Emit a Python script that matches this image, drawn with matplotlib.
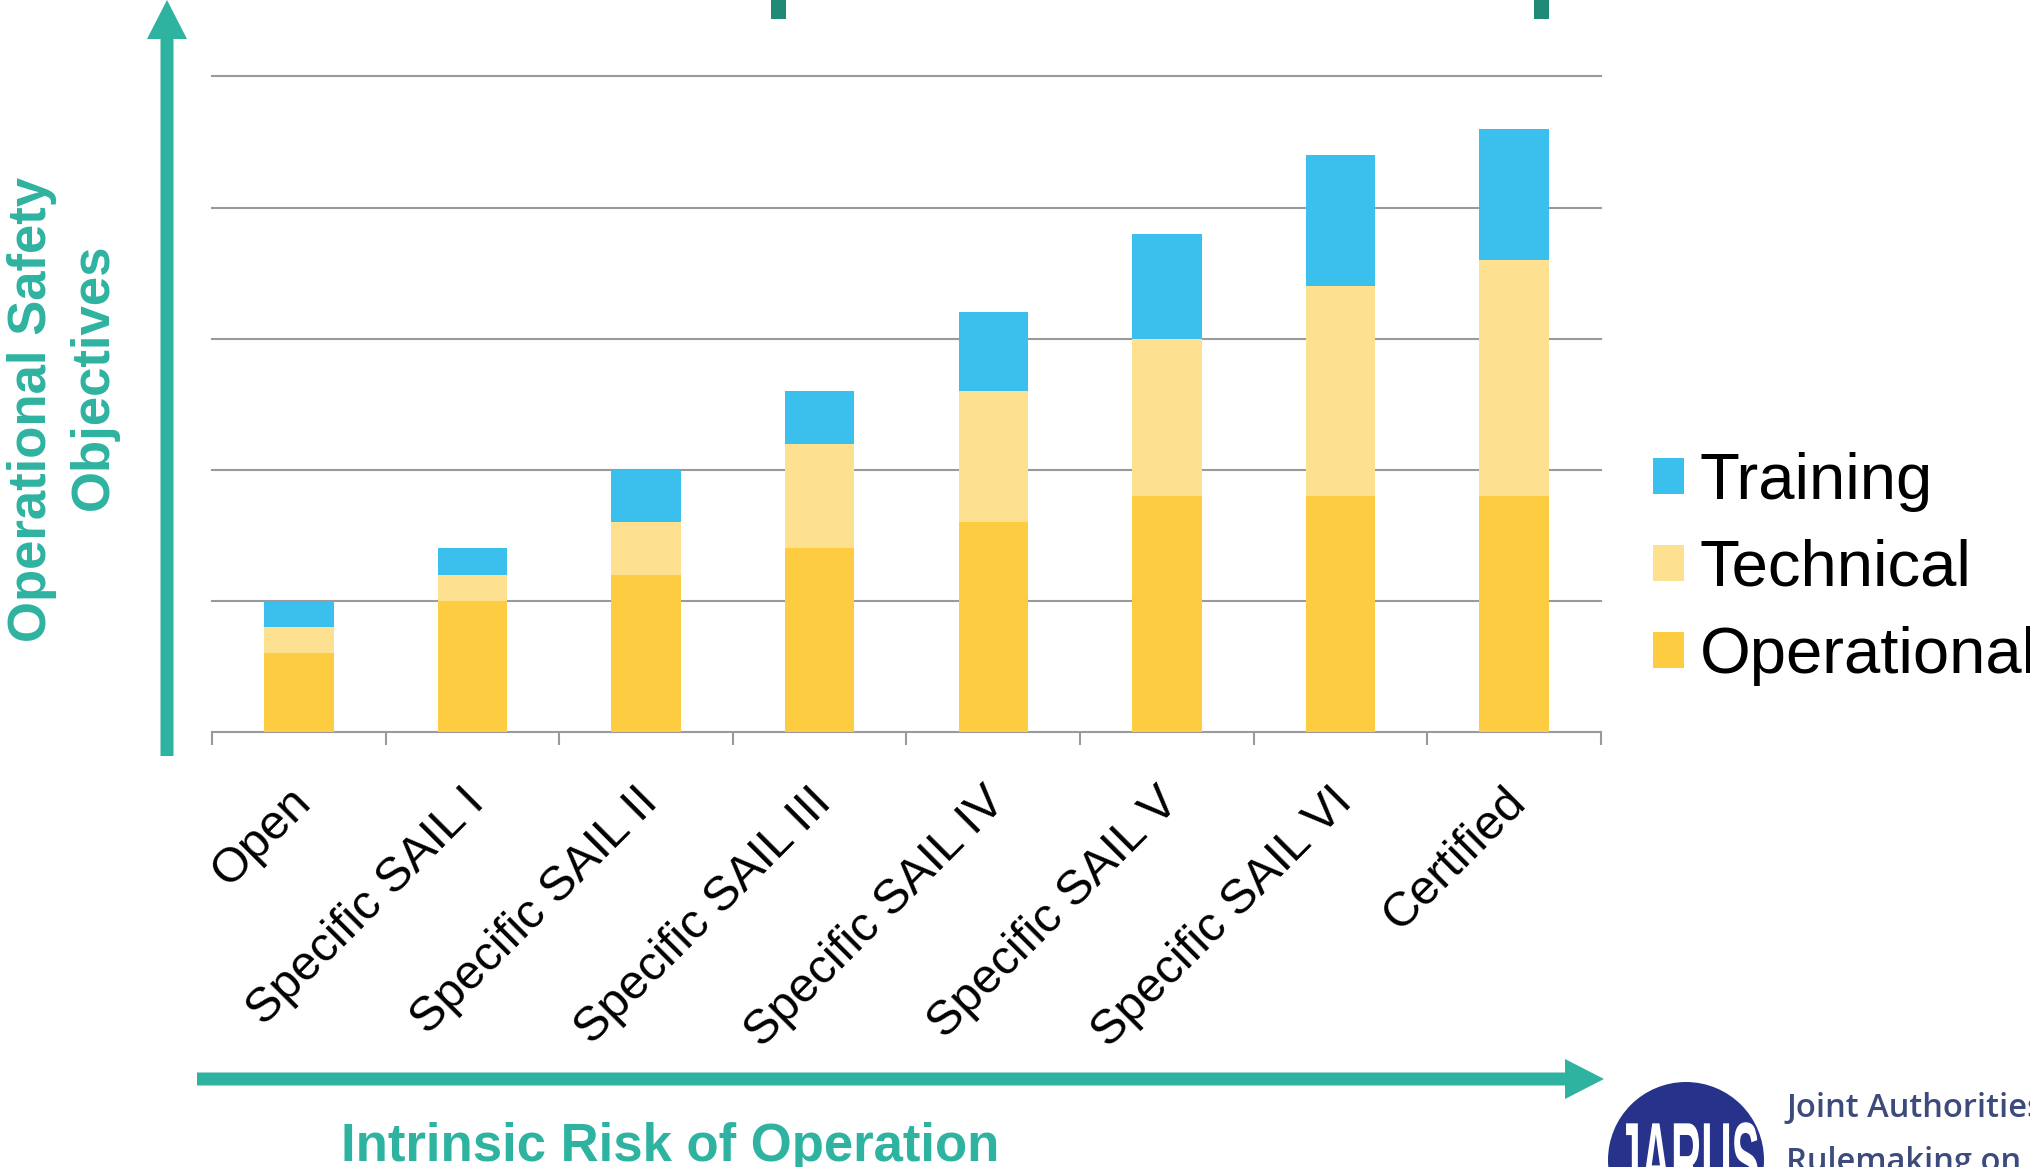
import numpy as np
import matplotlib
matplotlib.use("Agg")
import matplotlib.pyplot as plt
from matplotlib.patches import FancyArrow, Rectangle, Circle, PathPatch
from matplotlib.textpath import TextPath
from matplotlib.font_manager import FontProperties
from matplotlib.transforms import Affine2D, ScaledTranslation

plt.rcParams['font.family'] = ['Liberation Sans', 'DejaVu Sans']

# data (in fifths of a grid step)
categories = ["Open", "Specific SAIL I", "Specific SAIL II", "Specific SAIL III",
              "Specific SAIL IV", "Specific SAIL V", "Specific SAIL VI", "Certified"]
operational = [3, 5, 6, 7, 8, 9, 9, 9]
technical = [1, 1, 2, 4, 5, 6, 8, 9]
training = [1, 1, 2, 2, 3, 4, 5, 5]
grid_levels = [5, 10, 15, 20, 25]

c_op = '#FECC40'
c_tech = '#FDE090'
c_train = '#3BBFEC'
teal = '#2EB3A0'
dark_teal = '#1F8A78'
grey = '#9A9A9A'

W, H = 2031, 1167
fig = plt.figure(figsize=(W / 100, H / 100), dpi=100)

# main chart area
ax = fig.add_axes([212 / W, 1 - 732 / H, (1601 - 212) / W, (732 - 76.4) / H])
x = np.arange(len(categories))
op = np.array(operational)
te = np.array(technical)
tr = np.array(training)
b1 = ax.bar(x, op, width=0.4, color=c_op, zorder=3)
b2 = ax.bar(x, te, width=0.4, bottom=op, color=c_tech, zorder=3)
b3 = ax.bar(x, tr, width=0.4, bottom=op + te, color=c_train, zorder=3)

for g in grid_levels:
    ax.axhline(g, color=grey, lw=1.5, zorder=1, clip_on=False)

ax.set_xlim(-0.5, len(categories) - 0.5)
ax.set_ylim(0, 25)
for s in ['top', 'right', 'left']:
    ax.spines[s].set_visible(False)
ax.spines['bottom'].set_color(grey)
ax.spines['bottom'].set_linewidth(1.5)
ax.set_yticks([])
ax.set_xticks(x)
ax.set_xticklabels(categories, rotation=45, ha='right', va='center',
                   rotation_mode='anchor', fontsize=35)
ax.tick_params(axis='x', which='major', length=0, pad=42)
ax.set_xticks(np.arange(-0.5, len(categories)), minor=True)
ax.tick_params(axis='x', which='minor', length=9.5, width=1.5, color=grey)
shift = ScaledTranslation(5 / 100, -5 / 100, fig.dpi_scale_trans)
for lab in ax.get_xticklabels():
    lab.set_transform(lab.get_transform() + shift)

leg = fig.legend([b3, b2, b1], ["Training", "Technical", "Operational"],
                 loc='center left', bbox_to_anchor=(1653 / W, 1 - 569 / H),
                 frameon=False, fontsize=47, handlelength=0.47, handleheight=0.47,
                 handletextpad=0.25, labelspacing=0.41, borderpad=0, borderaxespad=0)

# overlay in pixel coordinates for arrows, labels and logo
ov = fig.add_axes([0, 0, 1, 1], zorder=-1)
ov.set_xlim(0, W)
ov.set_ylim(H, 0)
ov.axis('off')

ov.add_patch(FancyArrow(167, 756, 0, -756, width=13, head_width=40, head_length=39,
                        length_includes_head=True, color=teal, lw=0))
ov.add_patch(FancyArrow(197, 1079, 1407, 0, width=13, head_width=40, head_length=39,
                        length_includes_head=True, color=teal, lw=0))
ov.add_patch(Rectangle((771, 0), 15, 19, color=dark_teal, lw=0))
ov.add_patch(Rectangle((1534, 0), 15, 19, color=dark_teal, lw=0))

ov.text(32, 409, "Operational Safety", rotation=90, ha='center', va='center',
        color=teal, fontsize=38, fontweight='bold')
ov.text(94, 377, "Objectives", rotation=90, ha='center', va='center',
        color=teal, fontsize=38, fontweight='bold')
ov.text(670, 1161, "Intrinsic Risk of Operation", ha='center', va='baseline',
        color=teal, fontsize=38, fontweight='bold')

# JARUS logo
navy = '#27338A'
circ = Circle((1686, 1160), 78, color=navy, lw=0)
ov.add_patch(circ)
tp = TextPath((0, 0), "JARUS", size=100, prop=FontProperties(family='Liberation Sans', weight='bold'))
bb = tp.get_extents()
sx = 140 / bb.width
sy = 75 / 72
tr_path = Affine2D().translate(-bb.x0, 0).scale(sx, -sy).translate(1618, 1195)
pp = PathPatch(tr_path.transform_path(tp), color='white', lw=0)
ov.add_patch(pp)
pp.set_clip_path(circ)
ov.text(1786, 1117, "Joint Authorities for", ha='left', va='baseline', color='#3C4A7C',
        fontsize=23.5, family=['Open Sans', 'DejaVu Sans'], fontweight='semibold')
ov.text(1786, 1171, "Rulemaking on Unmanned Systems", ha='left', va='baseline', color='#3C4A7C',
        fontsize=23.5, family=['Open Sans', 'DejaVu Sans'], fontweight='semibold')

fig.savefig("out.png", dpi=100)
